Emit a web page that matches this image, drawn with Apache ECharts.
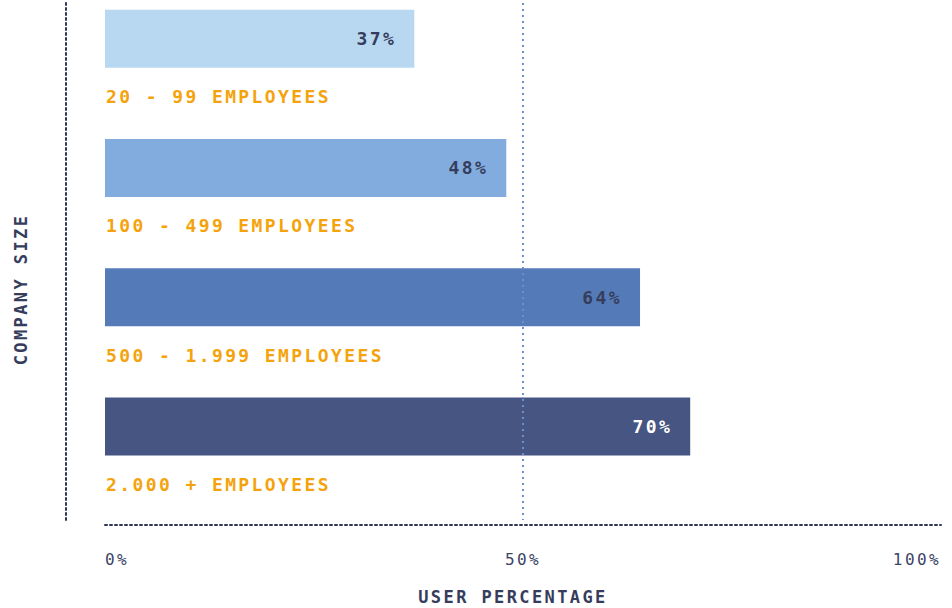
<!DOCTYPE html>
<html>
<head>
<meta charset="utf-8">
<script src="https://cdn.jsdelivr.net/npm/echarts@6/dist/echarts.min.js"></script>
<style>
  html, body { margin: 0; padding: 0; background: #fff; }
  #chart { width: 952px; height: 608px; }
  #chart text { letter-spacing: 2.4px; }
</style>
</head>
<body>
<div id="chart"></div>
<script>
// 公司规模 / 用户占比
const categories = ['20 - 99 EMPLOYEES', '100 - 499 EMPLOYEES', '500 - 1.999 EMPLOYEES', '2.000 + EMPLOYEES'];
const values = [37, 48, 64, 70];
const barColors = ['#b8d8f2', '#82acdd', '#547bb8', '#465582'];
const labelColors = ['#363d5c', '#363d5c', '#363d5c', '#ffffff'];
const spacer = [0, 0, 0, 0];

const chart = echarts.init(document.getElementById('chart'), null, { renderer: 'svg' });

const font = '"DejaVu Sans Mono", "Liberation Mono", monospace';

const option = {
  animation: false,
  grid: { left: 105, right: 11, top: 3, bottom: 88, outerBoundsMode: 'none' },
  xAxis: {
    type: 'value',
    min: 0,
    max: 100,
    interval: 50,
    offset: 5,
    name: 'USER PERCENTAGE',
    nameLocation: 'middle',
    nameGap: 63,
    nameTextStyle: { fontFamily: font, fontWeight: 'bold', fontSize: 17, color: '#363d5c', padding: [0, 20, 0, 0] },
    axisLine: { show: true, onZero: false, lineStyle: { color: '#2f3654', width: 2, type: [2, 3] } },
    axisTick: { show: false },
    splitLine: { show: false },
    axisLabel: {
      margin: 26,
      fontFamily: font,
      fontSize: 16,
      color: '#3d4466',
      formatter: '{value}%',
      alignMinLabel: 'left',
      alignMaxLabel: 'right'
    }
  },
  yAxis: {
    type: 'category',
    inverse: true,
    data: categories,
    offset: 39,
    name: 'COMPANY SIZE',
    nameLocation: 'middle',
    nameRotate: 90,
    nameGap: 37,
    nameTextStyle: { fontFamily: font, fontWeight: 'bold', fontSize: 17, color: '#363d5c', padding: [0, 56, 0, 0] },
    axisLine: { show: true, onZero: false, lineStyle: { color: '#2f3654', width: 2, type: [2, 3] } },
    axisTick: { show: false },
    axisLabel: { show: false }
  },
  series: [
    {
      name: 'User percentage',
      type: 'bar',
      barWidth: 58,
      barGap: 0,
      data: values.map((v, i) => ({
        value: v,
        itemStyle: { color: barColors[i] },
        label: { color: labelColors[i] }
      })),
      label: {
        show: true,
        position: 'insideRight',
        distance: 18,
        formatter: '{c}%',
        fontFamily: font,
        fontWeight: 'bold',
        fontSize: 18
      },
      markLine: {
        silent: true,
        symbol: 'none',
        label: { show: false },
        lineStyle: { color: '#6b8fd0', width: 2, type: [2, 4] },
        data: [{ xAxis: 50 }]
      }
    },
    {
      name: 'spacer',
      type: 'bar',
      barWidth: 58,
      silent: true,
      itemStyle: { color: 'transparent' },
      data: spacer,
      label: {
        show: true,
        position: 'right',
        distance: 1,
        formatter: '{b}',
        fontFamily: font,
        fontWeight: 'bold',
        fontSize: 18,
        color: '#f4a30d'
      }
    }
  ]
};
chart.setOption(option);
</script>
</body>
</html>
